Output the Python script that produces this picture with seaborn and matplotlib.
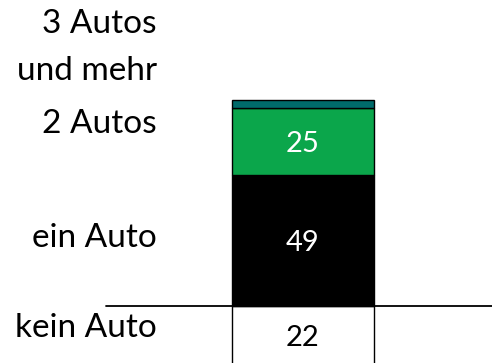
import matplotlib
matplotlib.use("Agg")
import matplotlib.pyplot as plt
import seaborn as sns
import pandas as pd

sns.set_style("white")
plt.rcParams["font.family"] = ["Lato", "DejaVu Sans"]

# Share of households by number of cars (percent)
categories = ["kein Auto", "ein Auto", "2 Autos", "3 Autos\nund mehr"]
values = [22, 49, 25, 3]
colors = ["#FFFFFF", "#000000", "#0BA64B", "#006B6B"]
value_text_colors = ["#000000", "#FFFFFF", "#FFFFFF", None]

fig = plt.figure(figsize=(4.92, 3.63), dpi=100)
ax = fig.add_axes([0, 0, 1, 1])

group = ["Haushalte"]
# "kein Auto" hangs below the baseline, the others stack upward from it
bottoms = []
running = 0
for i, v in enumerate(values):
    if i == 0:
        bottoms.append(-v)
    else:
        bottoms.append(running)
        running += v

for cat, v, b, c in zip(categories, values, bottoms, colors):
    df = pd.DataFrame({"g": group, "v": [v]})
    sns.barplot(data=df, x="g", y="v", bottom=b, color=c, saturation=1,
                width=0.8, edgecolor="black", linewidth=1.0, ax=ax, zorder=2)

# Value labels inside segments
for v, b, tc in zip(values, bottoms, value_text_colors):
    if tc is None:
        continue
    ax.text(0, b + v / 2, str(v), ha="center", va="center_baseline",
            fontsize=21, color=tc, zorder=3)

# Baseline
ax.axhline(0, xmin=0.215, xmax=1.0, color="black", linewidth=1.3, zorder=4)

# Category labels on the left (baseline of the last line)
label_y = [-11.6, 22.2, 64.7, 84.5]
for cat, y in zip(categories, label_y):
    ax.text(-0.8225, y, cat, ha="right", va="baseline", fontsize=24,
            color="black", linespacing=1.72)

ax.set_xlim(-1.707, 1.065)
ax.set_ylim(-21.3, 114.5)
ax.set_axis_off()

fig.savefig("out.png", dpi=100)
